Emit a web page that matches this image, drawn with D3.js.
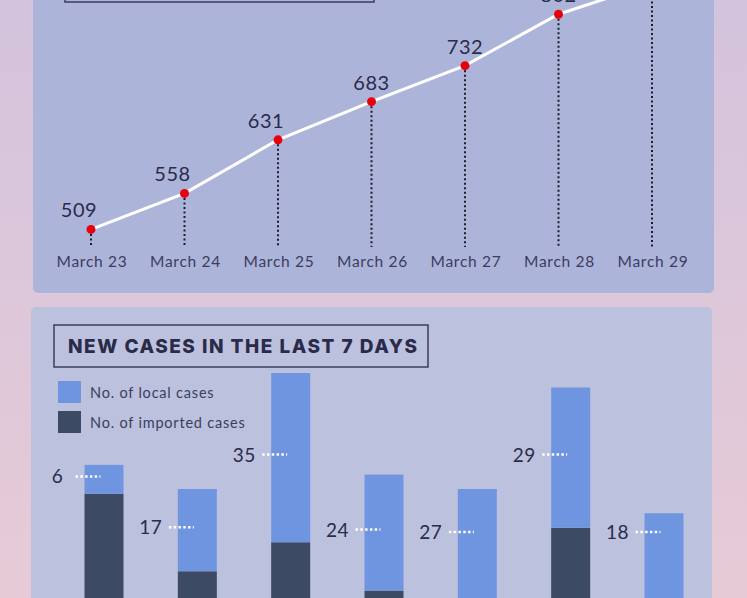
<!DOCTYPE html>
<html>
<head>
<meta charset="utf-8">
<script src="https://cdn.jsdelivr.net/npm/d3@7"></script>
<style>
  body { margin: 0; }
  svg { display: block; }
</style>
</head>
<body>
<div id="chart"></div>
<script>
// values
const dates = ["March 23", "March 24", "March 25", "March 26", "March 27", "March 28", "March 29"];
const totalCases = [509, 558, 631, 683, 732, 802, 844];
const localCases = [6, 17, 35, 24, 27, 29, 18];
const importedCases = [48, 32, 38, 28, 22, 41, 26];
const legendLabels = ["No. of local cases", "No. of imported cases"];
const barTitle = "NEW CASES IN THE LAST 7 DAYS";

const W = 747, H = 598;
const textDark = "#2a2b4a";
const textMid = "#3b3d5e";
const localColor = "#7095e0";
const importColor = "#3d4a64";

const svg = d3.select("#chart").append("svg")
    .attr("width", W)
    .attr("height", H);

// page background
const defs = svg.append("defs");
const grad = defs.append("linearGradient")
    .attr("id", "bg").attr("x1", 0).attr("y1", 0).attr("x2", 0).attr("y2", 1);
grad.append("stop").attr("offset", "0%").attr("stop-color", "#d3c3dc");
grad.append("stop").attr("offset", "100%").attr("stop-color", "#e7cbd7");
svg.append("rect").attr("width", W).attr("height", H).attr("fill", "url(#bg)");

// ---------- top panel: total cases line ----------
svg.append("rect")
    .attr("x", 33).attr("y", -20)
    .attr("width", 681).attr("height", 313)
    .attr("rx", 5)
    .attr("fill", "#adb4da");

// title box that is cut off by the top edge
svg.append("rect")
    .attr("x", 65).attr("y", -40)
    .attr("width", 309).attr("height", 42)
    .attr("fill", "none")
    .attr("stroke", textMid)
    .attr("stroke-width", 1.5);

const xLine = d3.scalePoint().domain(dates).range([91, 652]);
const yLine = d3.scaleLinear().domain([500, 850]).range([236, -21]);
const axisY = 247;

// dotted drop lines
svg.append("g").selectAll("line")
    .data(totalCases)
    .join("line")
    .attr("x1", (d, i) => xLine(dates[i]))
    .attr("x2", (d, i) => xLine(dates[i]))
    .attr("y1", d => yLine(d))
    .attr("y2", axisY)
    .attr("stroke", "#1c1c2c")
    .attr("stroke-width", 2)
    .attr("stroke-dasharray", "2,2.5");

const line = d3.line()
    .x((d, i) => xLine(dates[i]))
    .y(d => yLine(d));

svg.append("path")
    .datum(totalCases)
    .attr("d", line)
    .attr("fill", "none")
    .attr("stroke", "#ffffff")
    .attr("stroke-width", 3);

svg.append("g").selectAll("circle")
    .data(totalCases)
    .join("circle")
    .attr("cx", (d, i) => xLine(dates[i]))
    .attr("cy", d => yLine(d))
    .attr("r", 4.5)
    .attr("fill", "#e8000c");

// value labels, the early ones are nudged left off the line
svg.append("g").selectAll("text")
    .data(totalCases)
    .join("text")
    .attr("x", (d, i) => xLine(dates[i]) + (i < 3 ? -12 : 0))
    .attr("y", d => yLine(d) - 12)
    .attr("text-anchor", "middle")
    .attr("font-family", "Lato, sans-serif")
    .attr("font-size", 20)
    .attr("letter-spacing", 0.5)
    .attr("fill", textDark)
    .text(d => d);

// date axis labels
svg.append("g").selectAll("text")
    .data(dates)
    .join("text")
    .attr("x", d => xLine(d) + 1)
    .attr("y", 267)
    .attr("text-anchor", "middle")
    .attr("font-family", "Lato, sans-serif")
    .attr("font-size", 15.5)
    .attr("letter-spacing", 0.7)
    .attr("fill", textMid)
    .text(d => d);

// ---------- bottom panel: new cases stacked bars ----------
svg.append("rect")
    .attr("x", 31).attr("y", 307)
    .attr("width", 681).attr("height", 320)
    .attr("rx", 5)
    .attr("fill", "#bcc1dd");

svg.append("rect")
    .attr("x", 54).attr("y", 325)
    .attr("width", 374).attr("height", 42)
    .attr("fill", "none")
    .attr("stroke", textMid)
    .attr("stroke-width", 1.5);

svg.append("text")
    .attr("x", 68).attr("y", 353)
    .attr("font-family", "Inter, sans-serif")
    .attr("font-weight", 800)
    .attr("font-size", 19)
    .attr("letter-spacing", 1.5)
    .attr("fill", textDark)
    .text(barTitle);

// legend
const legend = svg.append("g").selectAll("g")
    .data(legendLabels)
    .join("g")
    .attr("transform", (d, i) => `translate(58, ${381 + i * 30})`);

legend.append("rect")
    .attr("width", 23).attr("height", 22)
    .attr("fill", (d, i) => i === 0 ? localColor : importColor);

legend.append("text")
    .attr("x", 32).attr("y", 16.5)
    .attr("font-family", "Lato, sans-serif")
    .attr("font-size", 14.5)
    .attr("letter-spacing", 0.8)
    .attr("fill", textMid)
    .text(d => d);

const xBar = d3.scalePoint().domain(dates).range([104, 664]);
const yBar = d3.scaleLinear().domain([0, 73]).range([726, 373]);
const barW = 39;

const stack = d3.stack().keys(["imported", "local"]);
const rows = dates.map((d, i) => ({ date: d, imported: importedCases[i], local: localCases[i] }));
const series = stack(rows);

svg.append("g").selectAll("g")
    .data(series)
    .join("g")
    .attr("fill", s => s.key === "local" ? localColor : importColor)
    .selectAll("rect")
    .data(s => s)
    .join("rect")
    .attr("x", d => xBar(d.data.date) - barW / 2)
    .attr("y", d => yBar(d[1]))
    .attr("width", barW)
    .attr("height", d => yBar(d[0]) - yBar(d[1]));

// local case callouts, kept inside the visible area
const labelY = (d, i) => Math.min((yBar(importedCases[i]) + yBar(importedCases[i] + d)) / 2 - 3, H - 66);

const callouts = svg.append("g").selectAll("g")
    .data(localCases)
    .join("g");

callouts.append("line")
    .attr("x1", (d, i) => xBar(dates[i]) - barW / 2 - 9)
    .attr("x2", (d, i) => xBar(dates[i]) - barW / 2 + 16)
    .attr("y1", labelY)
    .attr("y2", labelY)
    .attr("stroke", "#ffffff")
    .attr("stroke-width", 2.5)
    .attr("stroke-dasharray", "2.5,2.3");

callouts.append("text")
    .attr("x", (d, i) => xBar(dates[i]) - barW / 2 - 27)
    .attr("y", (d, i) => labelY(d, i) + 7)
    .attr("text-anchor", "middle")
    .attr("font-family", "Lato, sans-serif")
    .attr("font-size", 19)
    .attr("letter-spacing", 0.5)
    .attr("fill", textDark)
    .text(d => d);
</script>
</body>
</html>
